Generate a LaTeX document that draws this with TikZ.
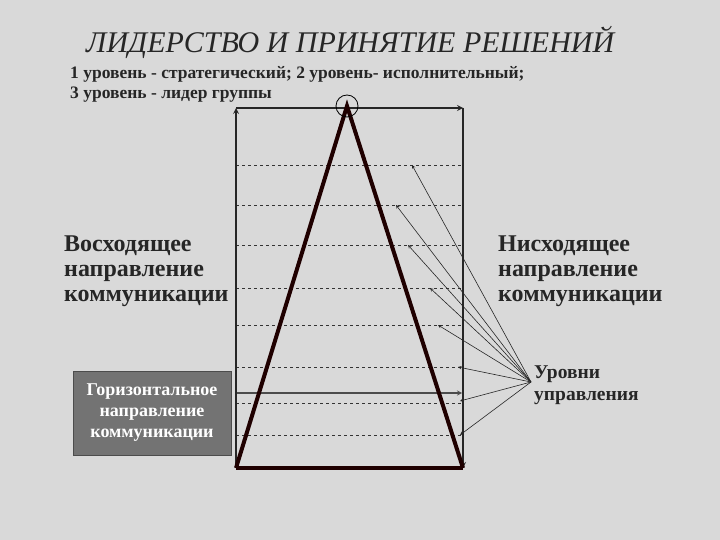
\documentclass[tikz,border=0pt]{standalone}
\usepackage{fontspec}
\setmainfont{Liberation Serif}
\begin{document}
\begin{tikzpicture}[x=1pt,y=-1pt,
 lvl/.style={black!80,dashed,line width=0.6pt},
 ptr/.style={-stealth,line width=0.6pt,black!85},
 big/.style={font=\bfseries\fontsize{24}{25}\selectfont,align=left,anchor=north west,inner sep=0pt,text=black!85},
 frame/.style={line width=1.6pt,black!85}]
\useasboundingbox (0,0) rectangle (720,540);
\fill[gray!30] (0,0) rectangle (720,540);
\node[anchor=north west,inner sep=0pt,font=\itshape\fontsize{30}{32}\selectfont,text=black!85] (t) at (86,26) {ЛИДЕРСТВО И ПРИНЯТИЕ РЕШЕНИЙ};
\node[anchor=north west,inner sep=0pt,align=left,font=\bfseries\fontsize{17.5}{20}\selectfont,text=black!85] (s) at (70,66) {1 уровень - стратегический; 2 уровень- исполнительный;\\3 уровень - лидер группы};
% levels
\foreach \y/\n in {165/a,205/b,245/c,288/d,325/e,367/f,403/g,435/h}
  \draw[lvl] (236,\y) -- (463,\y);
\draw[line width=1.2pt,gray!60!black,-stealth] (236,393) -- (462,393);
% frame
\coordinate (bl) at (236,468); \coordinate (br) at (463,468);
\coordinate (tl) at (236,108); \coordinate (tr) at (463,108);
\draw[frame,-stealth] (bl) -- (tl);
\draw[frame,-stealth] (tl) -- (tr);
\draw[frame,-stealth] (tr) -- (br);
\draw[line width=4pt,black!70!red!40!black] (bl) -- (br);
\coordinate (ap) at (347,106);
\draw[line width=4pt,black!70!red!40!black,line join=miter] (bl) -- (ap) -- (br);
\node[draw,circle,minimum size=22pt,line width=0.8pt,inner sep=0pt] (c) at (ap) {};
% labels
\node[big] (up) at (64,236) {Восходящее\\направление\\коммуникации};
\node[big] (down) at (498,236) {Нисходящее\\направление\\коммуникации};
\node[draw=black!70,fill=black!55,text=white,align=center,font=\bfseries\fontsize{18}{21}\selectfont,minimum width=158pt,minimum height=84pt,inner sep=1pt] (hz) at (152,413) {Горизонтальное\\направление\\коммуникации};
\node[anchor=north west,inner sep=0pt,align=left,font=\bfseries\fontsize{19.5}{22}\selectfont,text=black!85] (lv) at (534,366) {Уровни\\управления};
\coordinate (o) at (531,382);
\foreach \x/\y in {412/165,396/205,408/245,430/288,438/325,458/367,460/401,460/435}
  \draw[ptr] (o) -- (\x,\y);
\end{tikzpicture}
\end{document}
